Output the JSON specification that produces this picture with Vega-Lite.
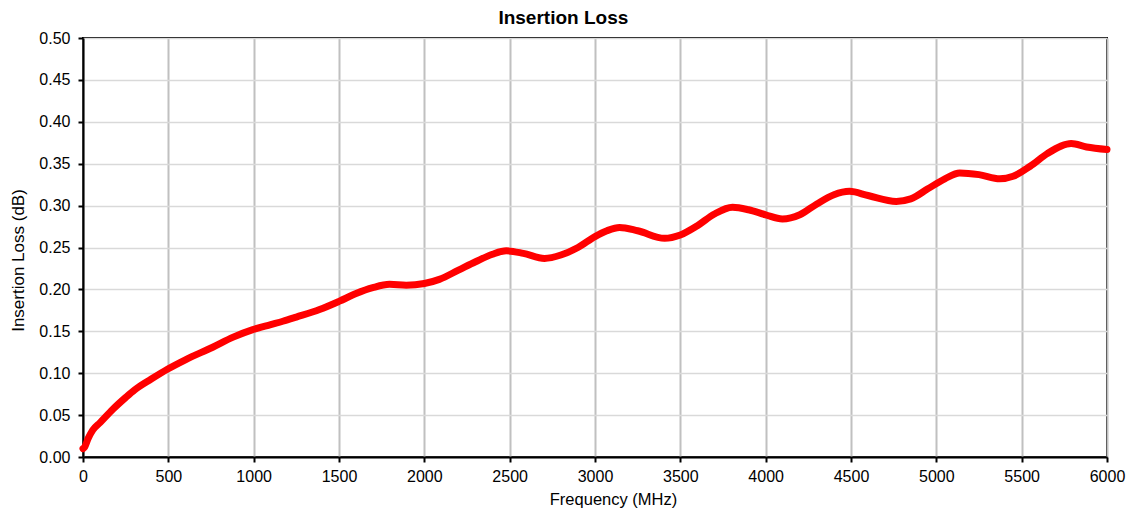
{
  "$schema": "https://vega.github.io/schema/vega-lite/v6.json",
  "autosize": {"type": "none"},
  "width": 1024,
  "height": 419,
  "padding": {"left": 83, "top": 38, "right": 24, "bottom": 57},
  "background": "white",
  "title": {
    "text": "Insertion Loss",
    "font": "Liberation Sans",
    "fontSize": 19,
    "fontWeight": "bold",
    "color": "black",
    "anchor": "middle",
    "frame": "bounds",
    "offset": 2,
    "dx": -4
  },
  "config": {
    "view": {"stroke": "black", "strokeWidth": 2},
    "axis": {
      "labelFont": "Liberation Sans",
      "titleFont": "Liberation Sans",
      "labelFontSize": 16,
      "titleFontSize": 16,
      "titleFontWeight": "normal",
      "labelColor": "black",
      "titleColor": "black",
      "domainColor": "black",
      "domainWidth": 2,
      "tickColor": "black",
      "tickWidth": 2,
      "tickSize": 5
    }
  },
  "data": {
    "values": [
      {"f": 0, "v": 0.010},
      {"f": 10, "v": 0.012},
      {"f": 30, "v": 0.022},
      {"f": 57, "v": 0.032},
      {"f": 100, "v": 0.041},
      {"f": 175, "v": 0.057},
      {"f": 250, "v": 0.071},
      {"f": 302, "v": 0.080},
      {"f": 400, "v": 0.093},
      {"f": 497, "v": 0.105},
      {"f": 600, "v": 0.116},
      {"f": 760, "v": 0.131},
      {"f": 880, "v": 0.143},
      {"f": 995, "v": 0.152},
      {"f": 1100, "v": 0.158},
      {"f": 1171, "v": 0.162},
      {"f": 1250, "v": 0.167},
      {"f": 1386, "v": 0.176},
      {"f": 1503, "v": 0.186},
      {"f": 1600, "v": 0.195},
      {"f": 1698, "v": 0.202},
      {"f": 1796, "v": 0.206},
      {"f": 1894, "v": 0.205},
      {"f": 2000, "v": 0.207},
      {"f": 2088, "v": 0.212},
      {"f": 2200, "v": 0.223},
      {"f": 2300, "v": 0.233},
      {"f": 2400, "v": 0.242},
      {"f": 2480, "v": 0.246},
      {"f": 2580, "v": 0.243},
      {"f": 2704, "v": 0.237},
      {"f": 2800, "v": 0.241},
      {"f": 2900, "v": 0.250},
      {"f": 3000, "v": 0.263},
      {"f": 3070, "v": 0.270},
      {"f": 3144, "v": 0.274},
      {"f": 3250, "v": 0.270},
      {"f": 3408, "v": 0.261},
      {"f": 3500, "v": 0.265},
      {"f": 3600, "v": 0.276},
      {"f": 3700, "v": 0.290},
      {"f": 3806, "v": 0.298},
      {"f": 3900, "v": 0.295},
      {"f": 4000, "v": 0.289},
      {"f": 4098, "v": 0.284},
      {"f": 4200, "v": 0.289},
      {"f": 4300, "v": 0.302},
      {"f": 4400, "v": 0.313},
      {"f": 4491, "v": 0.317},
      {"f": 4600, "v": 0.312},
      {"f": 4765, "v": 0.305},
      {"f": 4850, "v": 0.308},
      {"f": 4950, "v": 0.320},
      {"f": 5050, "v": 0.332},
      {"f": 5137, "v": 0.339},
      {"f": 5250, "v": 0.337},
      {"f": 5372, "v": 0.332},
      {"f": 5450, "v": 0.335},
      {"f": 5550, "v": 0.347},
      {"f": 5650, "v": 0.362},
      {"f": 5730, "v": 0.371},
      {"f": 5790, "v": 0.374},
      {"f": 5880, "v": 0.370},
      {"f": 6000, "v": 0.367}
    ]
  },
  "mark": {
    "type": "line",
    "color": "#FF0000",
    "strokeWidth": 7,
    "interpolate": "monotone",
    "strokeCap": "round",
    "clip": false
  },
  "encoding": {
    "x": {
      "field": "f",
      "type": "quantitative",
      "title": "Frequency (MHz)",
      "scale": {"domain": [0, 6000], "nice": false, "zero": false},
      "axis": {
        "values": [0, 500, 1000, 1500, 2000, 2500, 3000, 3500, 4000, 4500, 5000, 5500, 6000],
        "format": "d",
        "gridColor": "#c0c0c0",
        "gridWidth": 2,
        "labelPadding": 6,
        "titlePadding": 7,
        "titleFontSize": 16.5,
        "titleX": 530,
        "titleAlign": "center",
        "labelFlush": false
      }
    },
    "y": {
      "field": "v",
      "type": "quantitative",
      "title": "Insertion Loss (dB)",
      "scale": {"domain": [0, 0.5], "nice": false},
      "axis": {
        "values": [0, 0.05, 0.1, 0.15, 0.2, 0.25, 0.3, 0.35, 0.4, 0.45, 0.5],
        "format": ".2f",
        "gridColor": "#d9d9d9",
        "gridWidth": 1.5,
        "labelPadding": 8,
        "titlePadding": 11,
        "titleFontSize": 17,
        "titleY": 222,
        "titleAlign": "center",
        "labelFlush": false
      }
    }
  }
}
